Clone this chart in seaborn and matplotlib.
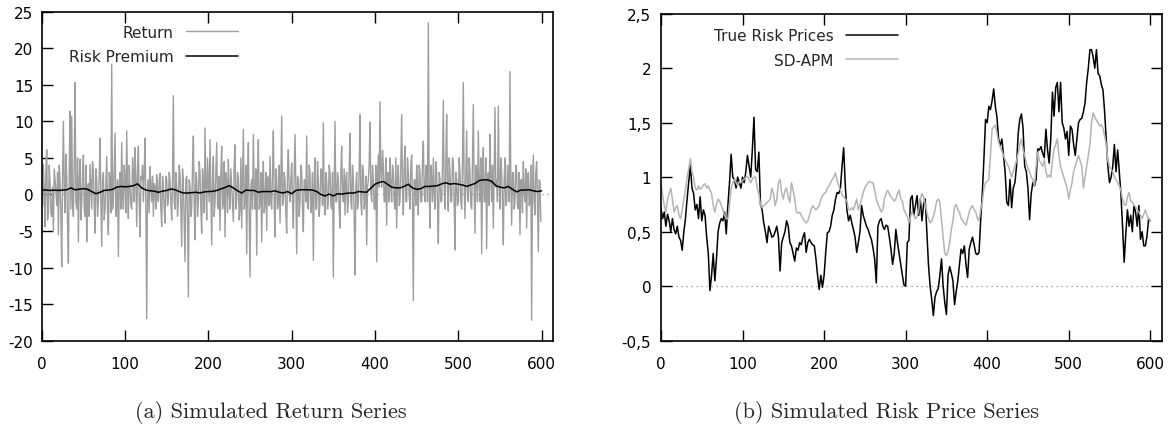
import numpy as np
import pandas as pd
import matplotlib
matplotlib.use("Agg")
import matplotlib.pyplot as plt
import seaborn as sns

## (a) 수익률 - 그림에서 읽은 값 (매 기)
ret_t = np.arange(0, 600)
ret_vals = [
    2.0, -1.5, 4.1, 0.5, -4.4, 3.0, 6.1, -3.5, -2.0, 4.0, 1.5, -2.5, -3.0, 1.0, -5.1, 3.5, 2.0, 0.5, -1.5, 3.0,
    -5.5, 4.0, 1.8, -3.0, -9.9, 2.5, 10.0, 1.0, -2.5, 5.5, 2.5, -4.0, -9.4, 3.0, 11.4, -2.0, 10.7, -1.0, -3.0, 4.5,
    15.3, -1.0, -2.0, 5.0, -6.5, 2.0, 4.8, -3.5, -1.0, 3.0, 5.4, -2.0, -3.0, 4.0, -6.5, 0.5, 1.5, -3.0, 4.1, 1.0,
    -2.0, 4.5, 3.0, -1.5, -5.3, 3.5, 2.0, -3.0, -1.0, 2.5, 7.7, -1.0, -7.1, 2.0, 3.0, -3.5, -2.0, 1.5, 5.2, -2.5,
    -5.5, 3.0, 2.0, -2.5, 17.8, -2.0, -1.0, 4.0, 8.4, -3.0, -1.0, 2.0, -8.5, 1.0, 3.0, -2.0, 7.1, 0.5, -2.0, 4.0,
    2.0, -2.5, 8.7, 1.0, -3.3, 4.0, 1.0, -1.5, -2.0, 5.0, 3.0, -1.0, 6.4, 2.0, -4.4, 3.0, 6.6, -1.0, -5.8, 2.5,
    2.0, 4.0, -1.0, 3.0, 7.7, -2.0, -17.0, 1.0, 2.0, -2.5, 3.8, 1.0, -1.0, 2.5, -3.0, 1.5, 1.0, -2.0, 2.7, 0.5,
    -1.0, 2.0, 2.9, -2.0, -4.4, 2.5, 1.0, -2.0, -3.9, 2.5, 2.0, -1.5, -1.0, 3.0, 2.0, -1.0, -3.5, 2.0, 13.5, -1.0,
    -2.0, 3.0, 1.0, -3.0, -1.0, 4.0, 2.7, -2.0, -7.1, 3.5, 1.5, -4.0, -9.2, 2.0, 2.5, -3.0, -14.0, 2.0, 1.0, -3.0,
    -2.0, 4.0, 8.0, -1.0, -6.2, 3.0, 2.0, -3.0, -1.0, 4.5, 2.9, -2.0, -5.3, 3.5, 1.0, -2.5, 9.1, 1.0, -3.5, 5.0,
    2.0, -1.0, 7.5, 0.5, -6.9, 2.0, 5.2, -3.0, -1.0, 3.0, 7.1, -1.5, -2.0, 2.5, -4.9, 3.0, 6.6, -2.0, -1.0, 4.5,
    -5.8, 3.0, 2.0, -2.5, 4.8, 0.5, -2.0, 3.5, 1.0, -1.5, -3.7, 4.0, 6.8, -2.0, -1.0, 3.0, 2.0, -3.5, -2.0, 5.0,
    -4.6, 2.0, 8.9, -2.0, -1.0, 4.0, -8.1, 2.0, 7.1, -3.0, -11.3, 1.0, 2.0, -2.0, 8.2, 1.0, -2.0, 3.5, -8.3, 2.0,
    7.5, -2.0, -1.0, 3.0, -6.5, 1.0, 4.5, -2.5, -1.0, 3.0, -4.9, 2.5, 2.0, -1.5, 5.2, -1.0, -2.0, 3.0, 8.7, -1.0,
    -5.8, 3.5, 2.0, -2.0, -1.0, 4.0, -3.9, 2.0, 10.7, -1.5, -1.0, 3.0, 2.0, -2.5, -5.3, 3.0, 6.1, 0.5, -1.0, 2.0,
    4.3, -1.0, -4.6, 3.0, 8.2, 1.0, -8.1, 2.5, 2.0, -3.0, -1.0, 4.0, 3.0, -2.0, -5.1, 2.0, 2.0, -1.0, 8.0, -1.5,
    -2.0, 4.0, 3.0, -2.5, -1.0, 3.0, -9.0, 1.0, 5.0, -2.0, -2.0, 4.5, 2.0, -3.0, -1.0, 3.5, 3.0, -1.5, 9.8, -1.0,
    -2.8, 3.0, 2.0, -2.0, -1.0, 4.0, 3.0, -1.5, -2.0, 3.0, -11.3, 1.0, 10.0, -1.0, -1.0, 3.0, 2.0, -2.0, -4.6, 3.0,
    6.6, 0.5, -1.0, 3.5, -2.8, 2.0, 3.0, -2.5, -1.0, 3.0, 8.4, -1.0, -2.0, 4.0, 2.0, -3.0, -11.0, 1.0, 3.0, -2.0,
    -1.0, 3.0, 10.9, -1.0, -2.8, 4.0, 3.0, -2.0, -1.0, 2.5, -6.9, 1.0, 2.0, 4.0, 9.9, 0.5, -1.0, 4.0, 2.0, -2.0,
    -2.0, 4.0, -9.2, 2.0, 5.4, 1.0, 12.7, 3.0, 1.0, 6.0, 4.0, -1.0, -1.0, 5.0, -4.2, 3.0, 3.0, -1.0, 5.0, 1.0,
    -1.0, 4.0, 3.0, -1.0, -2.0, 5.0, -4.6, 2.0, 4.0, -1.5, -1.0, 4.0, 10.9, 1.0, -2.8, 4.0, 6.6, -1.0, -1.0, 5.0,
    3.0, 0.0, -2.0, 4.0, 5.4, -1.0, -14.5, 2.0, 2.0, -1.5, 4.0, 1.0, -2.8, 4.0, 3.0, -1.0, -1.0, 4.5, 7.3, 0.5,
    -1.0, 4.0, 3.0, -1.0, 23.5, 1.0, -4.6, 4.0, 2.0, -1.0, 5.0, 0.5, -2.0, 4.5, 3.0, -1.0, -6.7, 3.0, 2.0, -1.0,
    -1.0, 4.0, 12.9, 1.0, -2.0, 4.0, 10.9, 0.5, -2.3, 5.0, 3.0, -1.0, -1.0, 5.0, 4.5, -1.0, -7.6, 3.0, 2.0, -1.5,
    -1.0, 5.0, 3.0, -1.0, -2.0, 4.0, 15.3, 1.0, -3.3, 3.0, 8.7, 0.0, -1.0, 5.0, 3.0, -1.5, -2.0, 4.5, 12.3, 1.0,
    -5.3, 4.0, 3.0, -1.0, 8.7, 2.0, -1.0, 5.0, -8.1, 2.0, 6.4, -1.0, -1.0, 5.0, -7.4, 2.0, 3.0, -1.5, 8.2, 2.0,
    -1.0, 4.0, -4.6, 3.0, 11.9, 1.0, 2.0, -1.0, 12.1, 2.0, -2.0, 5.0, 3.0, -1.0, -6.9, 2.0, 5.0, -1.5, -1.0, 4.0,
    2.0, -1.0, 16.8, 2.0, -4.2, 3.0, 3.0, -2.0, -1.0, 4.0, 3.2, -1.5, -2.0, 3.0, -5.5, 2.0, 2.0, -2.5, 4.5, 0.5,
    -1.0, 3.5, -4.6, 2.0, 3.0, -1.5, -1.0, 4.0, -17.2, 1.0, 5.4, -1.0, -2.8, 3.0, 4.5, -1.0, -7.8, 2.0, 1.8, -3.7,
]

## 위험 프리미엄 (5기 간격)
prem_t = np.arange(0, 601, 5)
prem_vals = [
    0.64, 0.60, 0.55, 0.60, 0.55, 0.60, 0.64, 0.90, 0.64, 0.72,
    0.80, 0.70, 0.40, 0.10, 0.30, 0.55, 0.60, 0.70, 1.00, 1.10,
    1.05, 1.10, 1.20, 1.45, 0.90, 0.60, 0.50, 0.45, 0.30, 0.45,
    0.55, 0.75, 0.65, 0.40, 0.20, 0.20, 0.25, 0.30, 0.20, 0.35,
    0.40, 0.42, 0.55, 0.75, 0.95, 1.20, 0.90, 0.50, 0.20, 0.60,
    0.55, 0.55, 0.30, 0.40, 0.40, 0.38, 0.50, 0.30, 0.20, 0.40,
    0.10, 0.55, 0.64, 0.65, 0.64, 0.60, 0.40, 0.00, -0.20, 0.05,
    -0.20, 0.10, 0.05, 0.15, 0.20, 0.20, 0.40, 0.35, 0.30, 0.87,
    1.40, 1.65, 1.78, 1.40, 1.00, 0.90, 0.90, 1.10, 1.40, 0.90,
    0.70, 0.80, 1.10, 1.10, 1.15, 1.20, 1.45, 1.60, 1.40, 1.50,
    1.40, 1.30, 1.10, 1.30, 1.50, 1.90, 2.00, 2.00, 1.80, 1.20,
    1.00, 0.90, 1.10, 0.70, 0.35, 0.60, 0.60, 0.65, 0.50, 0.40,
    0.50,
]

## (b) 위험 가격 (2기 간격)
price_t = np.arange(0, 601, 2)
true_vals = [
    0.71, 0.62, 0.68, 0.55, 0.66, 0.60, 0.50, 0.62, 0.52, 0.48,
    0.55, 0.45, 0.42, 0.33, 0.50, 0.62, 0.80, 0.95, 1.11, 0.90,
    0.85, 0.70, 0.75, 0.62, 0.82, 0.60, 0.70, 0.65, 0.45, 0.30,
    -0.04, 0.10, 0.30, 0.05, 0.25, 0.50, 0.58, 0.62, 0.60, 0.68,
    0.48, 0.74, 0.95, 1.21, 1.00, 0.98, 0.90, 1.00, 0.95, 0.90,
    1.00, 0.95, 1.05, 1.20, 1.10, 1.00, 1.25, 1.55, 1.07, 1.05,
    1.23, 0.75, 0.70, 0.58, 0.50, 0.40, 0.55, 0.50, 0.45, 0.46,
    0.50, 0.55, 0.45, 0.14, 0.40, 0.45, 0.50, 0.60, 0.55, 0.40,
    0.37, 0.30, 0.23, 0.35, 0.33, 0.40, 0.38, 0.45, 0.49, 0.31,
    0.40, 0.43, 0.40, 0.38, 0.37, 0.25, 0.10, -0.03, 0.10, -0.01,
    0.10, 0.31, 0.49, 0.50, 0.55, 0.65, 0.70, 0.80, 0.86, 0.85,
    0.90, 1.10, 1.27, 0.92, 0.70, 0.60, 0.65, 0.58, 0.52, 0.45,
    0.31, 0.40, 0.50, 0.74, 0.65, 0.60, 0.55, 0.52, 0.47, 0.43,
    0.35, 0.25, 0.03, 0.55, 0.60, 0.62, 0.55, 0.52, 0.56, 0.55,
    0.45, 0.34, 0.20, 0.30, 0.52, 0.40, 0.30, 0.20, 0.10, 0.01,
    0.00, 0.40, 0.42, 0.80, 0.83, 0.65, 0.74, 0.83, 0.65, 0.80,
    0.60, 0.75, 0.80, 0.50, 0.20, 0.00, -0.12, -0.27, -0.10, -0.05,
    -0.02, 0.10, 0.25, 0.00, -0.15, -0.26, 0.10, 0.18, 0.12, 0.05,
    -0.17, -0.05, 0.05, 0.20, 0.34, 0.30, 0.37, 0.20, 0.08, 0.34,
    0.40, 0.45, 0.38, 0.30, 0.29, 0.31, 0.60, 0.85, 1.17, 1.53,
    1.50, 1.65, 1.62, 1.70, 1.81, 1.65, 1.55, 1.35, 1.29, 1.35,
    1.20, 1.05, 0.77, 0.74, 0.98, 0.72, 0.90, 0.95, 1.10, 1.40,
    1.53, 1.58, 1.45, 1.10, 1.05, 0.90, 0.61, 0.85, 0.95, 0.92,
    0.98, 1.26, 1.25, 1.28, 1.22, 1.18, 1.44, 1.25, 1.13, 1.35,
    1.78, 1.56, 1.82, 1.87, 1.60, 1.87, 1.50, 1.45, 1.35, 1.42,
    1.20, 1.47, 1.44, 1.30, 1.20, 1.35, 1.50, 1.53, 1.54, 1.60,
    1.68, 1.87, 2.00, 2.17, 2.17, 2.10, 2.00, 2.17, 1.95, 1.93,
    1.85, 1.80, 1.60, 1.35, 1.10, 0.95, 1.00, 1.10, 1.30, 1.05,
    1.25, 1.05, 0.85, 0.55, 0.22, 0.48, 0.70, 0.55, 0.65, 0.50,
    0.74, 0.68, 0.55, 0.74, 0.43, 0.50, 0.37, 0.37, 0.46, 0.62,
    0.60,
]
sdapm_vals = [
    0.95, 0.83, 0.74, 0.68, 0.80, 0.85, 0.90, 0.80, 0.68, 0.72,
    0.74, 0.65, 0.62, 0.70, 0.80, 0.88, 1.00, 1.08, 1.17, 1.05,
    1.00, 0.90, 0.88, 0.92, 0.89, 0.90, 0.93, 0.94, 0.90, 0.92,
    0.88, 0.85, 0.74, 0.68, 0.75, 0.80, 0.78, 0.74, 0.70, 0.65,
    0.62, 0.62, 0.74, 0.90, 0.95, 0.98, 0.95, 0.92, 0.96, 0.95,
    0.97, 0.98, 1.00, 1.01, 0.98, 0.95, 0.98, 1.00, 1.00, 0.90,
    0.85, 0.74, 0.72, 0.74, 0.75, 0.77, 0.78, 0.80, 0.90, 0.85,
    0.74, 0.80, 0.95, 0.98, 0.85, 0.80, 0.88, 0.90, 0.82, 0.77,
    0.95, 0.88, 0.80, 0.68, 0.67, 0.68, 0.65, 0.62, 0.60, 0.58,
    0.60, 0.65, 0.70, 0.74, 0.72, 0.70, 0.72, 0.74, 0.80, 0.83,
    0.85, 0.86, 0.90, 0.92, 0.95, 0.98, 1.00, 1.04, 0.97, 0.92,
    0.88, 0.84, 0.82, 0.80, 0.78, 0.70, 0.70, 0.72, 0.70, 0.75,
    0.80, 0.70, 0.75, 0.80, 0.86, 0.90, 0.93, 0.95, 0.96, 0.95,
    0.95, 0.88, 0.80, 0.75, 0.72, 0.68, 0.70, 0.80, 0.85, 0.88,
    0.85, 0.82, 0.80, 0.78, 0.80, 0.85, 0.88, 0.80, 0.78, 0.70,
    0.67, 0.64, 0.58, 0.64, 0.68, 0.65, 0.62, 0.64, 0.70, 0.80,
    0.85, 0.82, 0.75, 0.68, 0.62, 0.58, 0.60, 0.64, 0.70, 0.78,
    0.80, 0.77, 0.60, 0.45, 0.30, 0.28, 0.32, 0.40, 0.52, 0.60,
    0.73, 0.75, 0.70, 0.68, 0.62, 0.60, 0.58, 0.56, 0.62, 0.68,
    0.72, 0.74, 0.70, 0.68, 0.62, 0.60, 0.70, 0.77, 0.90, 0.95,
    0.96, 0.98, 1.20, 1.44, 1.46, 1.48, 1.40, 1.32, 1.28, 1.24,
    1.20, 1.16, 1.13, 1.10, 1.05, 1.00, 1.05, 1.10, 1.15, 1.22,
    1.30, 1.35, 1.25, 1.20, 1.13, 1.08, 1.05, 1.00, 0.98, 0.92,
    1.10, 1.23, 1.15, 1.13, 1.10, 1.16, 1.05, 1.00, 1.02, 1.00,
    1.15, 1.26, 1.30, 1.35, 1.20, 1.10, 1.05, 1.00, 0.95, 0.90,
    0.80, 0.88, 0.95, 1.05, 1.10, 1.15, 1.20, 1.15, 1.10, 0.90,
    1.00, 1.10, 1.20, 1.30, 1.50, 1.59, 1.55, 1.52, 1.50, 1.47,
    1.48, 1.45, 1.38, 1.30, 1.15, 1.10, 1.07, 1.05, 1.00, 0.98,
    0.95, 0.92, 0.88, 0.80, 0.75, 0.74, 0.82, 0.86, 0.78, 0.77,
    0.74, 0.73, 0.70, 0.68, 0.65, 0.62, 0.66, 0.70, 0.65, 0.62,
    0.60,
]

ret_ticks = [-20, -15, -10, -5, 0, 5, 10, 15, 20, 25]
price_ticks = [-0.5, 0, 0.5, 1, 1.5, 2, 2.5]
price_ticklabels = ['-0,5', '0', '0,5', '1', '1,5', '2', '2,5']
x_ticks = [0, 100, 200, 300, 400, 500, 600]

df_ret = pd.DataFrame({'t': ret_t, 'v': ret_vals})
df_prem = pd.DataFrame({'t': prem_t, 'v': prem_vals})
df_true = pd.DataFrame({'t': price_t, 'v': true_vals})
df_sd = pd.DataFrame({'t': price_t, 'v': sdapm_vals})

sns.set_style("ticks")
plt.rcParams['font.family'] = ['DejaVu Sans']
plt.rcParams['axes.unicode_minus'] = False

fig = plt.figure(figsize=(11.72, 4.27), dpi=100)
ax1 = fig.add_axes([0.0356, 0.1998, 0.4365, 0.7705])
ax2 = fig.add_axes([0.564, 0.1998, 0.4272, 0.7658])

sns.lineplot(data=df_ret, x='t', y='v', ax=ax1, color='#9e9e9e', lw=1.0, label='Return')
sns.lineplot(data=df_prem, x='t', y='v', ax=ax1, color='black', lw=1.1, label='Risk Premium')

sns.lineplot(data=df_true, x='t', y='v', ax=ax2, color='black', lw=1.1, label='True Risk Prices')
sns.lineplot(data=df_sd, x='t', y='v', ax=ax2, color='#b4b4b4', lw=1.1, label='SD-APM')

for ax in (ax1, ax2):
    ax.axhline(0, color='#909090', lw=0.9, ls=(0, (1, 3)), zorder=0)
    ax.set_xlim(0, 614)
    ax.set_xticks(x_ticks)
    ax.set_xlabel('')
    ax.set_ylabel('')
    for s in ax.spines.values():
        s.set_visible(True)
        s.set_linewidth(1.2)
        s.set_color('black')
    ax.tick_params(axis='both', direction='in', length=8, width=1, labelsize=11, colors='black')
    ax.tick_params(axis='x', top=True, pad=11)

ax1.set_ylim(-20, 25)
ax1.set_yticks(ret_ticks)
ax1.tick_params(axis='y', right=False, pad=6)

ax2.set_ylim(-0.5, 2.5)
ax2.set_yticks(price_ticks)
ax2.set_yticklabels(price_ticklabels)
ax2.tick_params(axis='y', right=True, pad=7)

# markerfirst=False 이면 글자가 오른쪽 정렬됨 (gnuplot 스타일)
ax1.legend(loc='upper right', bbox_to_anchor=(0.383, 0.96), frameon=False,
           markerfirst=False, fontsize=11, handlelength=3.4, handletextpad=0.8,
           labelspacing=0.6, borderpad=0, borderaxespad=0)
ax2.legend(loc='upper right', bbox_to_anchor=(0.473, 0.955), frameon=False,
           markerfirst=False, fontsize=11, handlelength=3.4, handletextpad=0.8,
           labelspacing=0.6, borderpad=0, borderaxespad=0)

fig.text(271 / 1172, 1 - 413 / 427, '(a) Simulated Return Series', family='cmr10',
         fontsize=16, ha='center', va='center')
fig.text(887 / 1172, 1 - 413 / 427, '(b) Simulated Risk Price Series', family='cmr10',
         fontsize=16, ha='center', va='center')

fig.savefig('out.png', dpi=100)
